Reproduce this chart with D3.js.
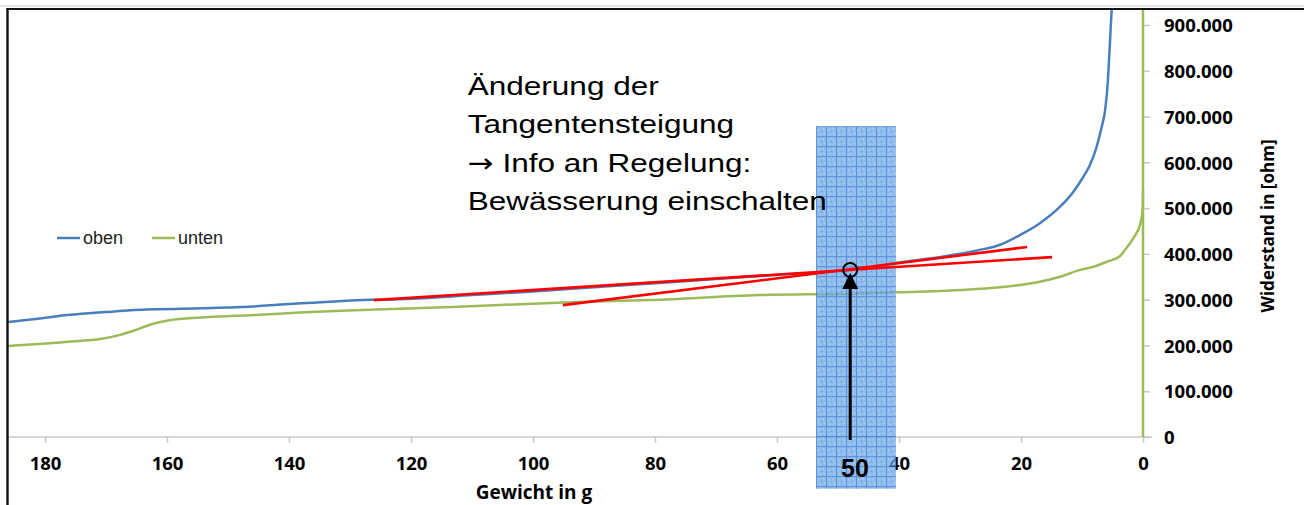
<!DOCTYPE html>
<html><head><meta charset="utf-8">
<script src="https://cdn.jsdelivr.net/npm/d3@7"></script>
<style>body{margin:0;background:#fff} svg{display:block}</style>
</head><body><svg id="c" width="1304" height="505"></svg>
<script>
// ---- data ----
const gramTicks = [180,160,140,120,100,80,60,40,20,0];
const ohmTicks = [0,100000,200000,300000,400000,500000,600000,700000,800000,900000];
const ohmTickLabels = ["0","100.000","200.000","300.000","400.000","500.000","600.000","700.000","800.000","900.000"];
const seriesNames = ["oben","unten"];

const obenGrams = [186,182,178,174,170,166,162,158,154,150,146,142,138,134,130,127,124,120,110,100,90,80,70,60,48,40,32,27,23.4,20.2,16.9,13.6,11.4,9.8,8.7,7.6,6.8,6.2,5.8,5.5,5.2,5.0];
const obenOhm   = [251000,257000,264000,269000,273000,277000,279000,280000,281000,283000,285000,289000,292000,295000,298000,300000,300000,302000,310000,318000,327000,336000,345000,354000,365000,381000,396000,408000,420000,441000,467000,503000,536000,568000,594000,634000,676000,715000,770000,840000,918000,960000];

const untenGrams = [186,179.2,175,171,168,165.5,163.5,161.5,159.6,154.6,146.4,138.2,131.5,121.8,113.4,95,80.8,63,48,40,30,23.4,20.2,16.9,13.6,10.3,8.1,5.9,3.8,3.0,1.6,0.5,0.05,0];
const untenOhm   = [199000,205000,209000,214000,222000,232000,242000,250000,255000,261000,266000,272000,276000,280000,284000,294000,299000,310000,313000,316000,321000,327000,332000,339000,350000,365000,372000,383000,395000,408000,434000,463000,496000,540000];
const untenVerticalOhm = [0, 1000000]; // green line at 0 g over the full height

const tangentAGrams = [126.1, 14.9], tangentAOhm = [299000, 393000];
const tangentBGrams = [95.1, 19.0],  tangentBOhm = [288000, 415000];
const markerGram = 48, markerOhm = 365000;
const bandGrams = [53.6, 40.5], bandOhm = [-113000, 679000];
const bandLabel = "50";
const annotationLines = ["Änderung der","Tangentensteigung","\u2192 Info an Regelung:","Bewässerung einschalten"];
const xTitle = "Gewicht in g", yTitle = "Widerstand in [ohm]";

// ---- scales ----
const svg = d3.select("#c");
const x = d3.scaleLinear().domain([180,0]).range([45,1143]);
const y = d3.scaleLinear().domain([0,900000]).range([437,25]);
const blue = "#4a7ebb", green = "#9bbb59", axisGray = "#c9c9c9";
const boldFont = "'Open Sans', 'Liberation Sans', sans-serif";

const defs = svg.append("defs");
defs.append("clipPath").attr("id","plot").append("rect")
  .attr("x",8).attr("y",10).attr("width",1296).attr("height",y(0)-10+1);

// top faint line
svg.append("line").attr("x1",0).attr("x2",1304).attr("y1",6).attr("y2",6)
  .attr("stroke","#dadada").attr("stroke-width",1.5);

// ---- x axis ----
const xAxis = svg.append("g").attr("transform",`translate(0,${y(0)})`)
  .call(d3.axisBottom(x).tickValues(gramTicks).tickSize(6).tickPadding(10).tickFormat(d3.format("d")));
xAxis.select(".domain").remove();
xAxis.selectAll(".tick line").attr("stroke",axisGray).attr("stroke-width",1.5);
xAxis.selectAll(".tick text").attr("font-family",boldFont).attr("font-weight","bold")
  .attr("font-size",18.5).attr("fill","#000").attr("dy","0.71em").attr("y",20);
svg.append("line").attr("x1",8).attr("x2",x(0)+9).attr("y1",y(0)).attr("y2",y(0))
  .attr("stroke",axisGray).attr("stroke-width",1.5);

// ---- y axis ----
const yAxis = svg.append("g").attr("transform",`translate(${x(0)},0)`)
  .call(d3.axisRight(y).tickValues(ohmTicks).tickSize(7).tickPadding(14).tickFormat((d,i)=>ohmTickLabels[i]));
yAxis.select(".domain").attr("stroke",axisGray);
yAxis.selectAll(".tick line").attr("stroke",axisGray).attr("stroke-width",1.5);
yAxis.selectAll(".tick text").attr("font-family",boldFont).attr("font-weight","bold")
  .attr("font-size",18.5).attr("fill","#000").attr("x",21).attr("dy","0.36em");

// axis titles
svg.append("text").attr("x",534).attr("y",y(0)+62).attr("text-anchor","middle")
  .attr("font-family",boldFont).attr("font-weight","bold").attr("font-size",19).text(xTitle);
svg.append("text").attr("transform",`translate(1274,226) rotate(-90)`).attr("text-anchor","middle")
  .attr("font-family",boldFont).attr("font-weight","bold").attr("font-size",17).text(yTitle);

// ---- series ----
const plot = svg.append("g").attr("clip-path","url(#plot)");
const line = d3.line().x(d=>x(d[0])).y(d=>y(d[1])).curve(d3.curveMonotoneX);
const oben = obenGrams.map((g,i)=>[g,obenOhm[i]]);
const unten = untenGrams.map((g,i)=>[g,untenOhm[i]]);
plot.append("path").datum(untenVerticalOhm.map(v=>[0,v])).attr("d",d3.line().x(d=>x(d[0])).y(d=>y(d[1])))
  .attr("fill","none").attr("stroke",green).attr("stroke-width",2.5);
plot.append("path").datum(unten).attr("d",line).attr("fill","none").attr("stroke",green).attr("stroke-width",2.5);
plot.append("path").datum(oben).attr("d",line).attr("fill","none").attr("stroke",blue).attr("stroke-width",2.5);

// ---- legend ----
const legend = svg.append("g").attr("transform","translate(57,238)");
[[0,seriesNames[0],blue],[95,seriesNames[1],green]].forEach(([dx,name,col])=>{
  legend.append("line").attr("x1",dx).attr("x2",dx+23).attr("y1",0).attr("y2",0).attr("stroke",col).attr("stroke-width",2.5);
  legend.append("text").attr("x",dx+26).attr("y",6).attr("font-family","'Liberation Sans', Arial, sans-serif")
    .attr("font-size",18).attr("fill","#222").text(name);
});

// ---- band ----
const bx0 = x(bandGrams[0]), bx1 = x(bandGrams[1]), by0 = y(bandOhm[1]), by1 = y(bandOhm[0]);
const pat = defs.append("pattern").attr("id","grid").attr("patternUnits","userSpaceOnUse")
  .attr("x",bx0).attr("y",by0).attr("width",10).attr("height",10);
pat.append("rect").attr("width",10).attr("height",10).attr("fill","#6aa6e8");
pat.append("path").attr("d","M0,0.5H10M0.5,0V10").attr("stroke","#1f68cc").attr("stroke-width",1);
pat.append("rect").attr("x",5).attr("y",5).attr("width",1).attr("height",1).attr("fill","#1d5fb8");
[[2,3],[7,2],[3,8],[8,7]].forEach(([a,b])=>pat.append("rect").attr("x",a).attr("y",b).attr("width",1).attr("height",1).attr("fill","#a6ccf2"));
svg.append("rect").attr("x",bx0).attr("y",by0).attr("width",bx1-bx0).attr("height",by1-by0)
  .attr("fill","url(#grid)").attr("opacity",0.74);

// ---- tangents ----
[[tangentAGrams,tangentAOhm],[tangentBGrams,tangentBOhm]].forEach(([gs,vs])=>{
  svg.append("line").attr("x1",x(gs[0])).attr("y1",y(vs[0])).attr("x2",x(gs[1])).attr("y2",y(vs[1]))
    .attr("stroke","#ff0000").attr("stroke-width",2.6);
});

// ---- marker, arrow ----
const mx = x(markerGram), my = y(markerOhm);
svg.append("line").attr("x1",mx).attr("x2",mx).attr("y1",y(0)+3).attr("y2",my+18)
  .attr("stroke","#000").attr("stroke-width",3);
svg.append("path").attr("d",`M${mx},${my+3}L${mx-8},${my+19}L${mx+8},${my+19}Z`).attr("fill","#000");
svg.append("circle").attr("cx",mx).attr("cy",my).attr("r",7).attr("fill","none").attr("stroke","#000").attr("stroke-width",2);
svg.append("text").attr("x",(bx0+bx1)/2-1).attr("y",y(0)+40).attr("text-anchor","middle")
  .attr("font-family","'Liberation Sans', Arial, sans-serif").attr("font-weight","bold").attr("font-size",25).text(bandLabel);

// ---- annotation ----
const ax = x(110.7), ay = y(747000);
annotationLines.forEach((t,i)=>{
  const txt = svg.append("text").attr("transform",`translate(${ax},${ay+i*38.3}) scale(1.19,1)`)
    .attr("font-family","'Liberation Sans', Arial, sans-serif").attr("font-size",26.5).attr("fill","#000");
  if (t.startsWith("\u2192")) {
    txt.append("tspan").attr("font-family","'DejaVu Sans', sans-serif").attr("font-size",26).text("\u2192");
    txt.append("tspan").text(t.slice(1));
  } else txt.text(t);
});

// ---- frame ----
svg.append("line").attr("x1",6.5).attr("x2",1304).attr("y1",9).attr("y2",9).attr("stroke","#111").attr("stroke-width",2.2);
svg.append("line").attr("x1",7.5).attr("x2",7.5).attr("y1",8).attr("y2",505).attr("stroke","#111").attr("stroke-width",2.4);
</script></body></html>
